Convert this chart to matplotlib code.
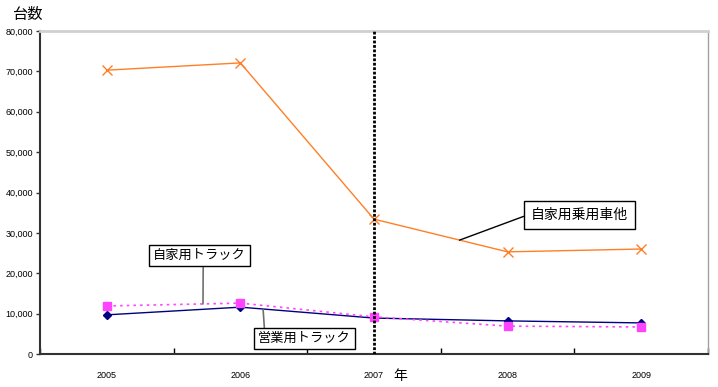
import matplotlib
matplotlib.use("Agg")
import matplotlib.pyplot as plt
from matplotlib.ticker import FuncFormatter, FixedLocator

plt.rcParams['font.family'] = ['Liberation Sans', 'Noto Sans CJK JP', 'DejaVu Sans']

years = ['2005', '2006', '2007', '2008', '2009']
private_cars = [70300, 72100, 33400, 25300, 26000]      # 自家用乗用車他
commercial_trucks = [9700, 11600, 8900, 8200, 7700]     # 営業用トラック
private_trucks = [11900, 12600, 9200, 6900, 6700]       # 自家用トラック

fig = plt.figure(figsize=(7.18, 3.87), dpi=100)
ax = fig.add_axes([40/718, 33/387, 668/718, 323/387])

x = list(range(len(years)))
ax.plot(x, private_cars, color='#FF7F27', lw=1.0, marker='x', ms=7, mew=1.0, zorder=3)
ax.plot(x, commercial_trucks, color='#000080', lw=1.0, marker='D', ms=4, zorder=3)
ax.plot(x, private_trucks, color='#FF44FF', lw=1.2, ls=(0, (1.5, 2.5)), marker='s', ms=6,
        mec='#FF44FF', zorder=3)

ax.axvline(2, color='black', lw=2.0, ls=(0, (1, 0.6)), zorder=4)

ax.set_xlim(-0.5, len(years) - 0.5)
ax.set_ylim(0, 80000)
ax.set_yticks(range(0, 80001, 10000))
ax.yaxis.set_major_formatter(FuncFormatter(lambda v, p: f'{int(v):,}'))
ax.tick_params(axis='y', direction='out', length=3, width=1, labelsize=6.5, pad=2, colors='#333333')
ax.tick_params(axis='y', labelcolor='black')

ax.set_xticks(x)
ax.set_xticklabels(years)
ax.tick_params(axis='x', length=0, labelsize=6.5, pad=12)
ax.xaxis.set_minor_locator(FixedLocator([i + 0.5 for i in range(-1, len(years))]))
ax.tick_params(axis='x', which='minor', direction='in', length=4, width=1, color='black')

for s in ['left', 'bottom']:
    ax.spines[s].set_color('#333333')
    ax.spines[s].set_linewidth(1.5)
ax.spines['top'].set_color('#D0D0D0')
ax.spines['top'].set_linewidth(2)
ax.spines['right'].set_color('#A0A0A0')
ax.spines['right'].set_linewidth(1)

fig.text(12/718, 1 - 14/387, '台数', fontsize=11, va='center', ha='left',
         family=['Noto Sans CJK JP'])
fig.text(400/718, 1 - 376/387, '年', fontsize=10, va='center', ha='center',
         family=['Noto Sans CJK JP'])

def box(pad):
    return dict(boxstyle=f'square,pad={pad}', fc='white', ec='black', lw=1)

ax.annotate('自家用トラック', xy=(0.72, 12400), xytext=(0.694, 24400),
            ha='center', va='center', fontsize=9.5, family=['Noto Sans CJK JP'],
            bbox=box(0.3), zorder=5,
            arrowprops=dict(arrowstyle='-', color='#707070', lw=1.2,
                            shrinkA=0, shrinkB=0, relpos=(0.54, 0)))
ax.annotate('営業用トラック', xy=(1.17, 11000), xytext=(1.48, 3840),
            ha='center', va='center', fontsize=9.5, family=['Noto Sans CJK JP'],
            bbox=box(0.3), zorder=5,
            arrowprops=dict(arrowstyle='-', color='#707070', lw=1.2,
                            shrinkA=0, shrinkB=0, relpos=(0.07, 1)))
ax.annotate('自家用乗用車他', xy=(2.64, 28200), xytext=(3.54, 34430),
            ha='center', va='center', fontsize=10, family=['Noto Sans CJK JP'],
            bbox=box(0.5), zorder=5,
            arrowprops=dict(arrowstyle='-', color='black', lw=1.0,
                            shrinkA=0, shrinkB=0, relpos=(0, 0.6)))

fig.savefig('out.png', dpi=100)
